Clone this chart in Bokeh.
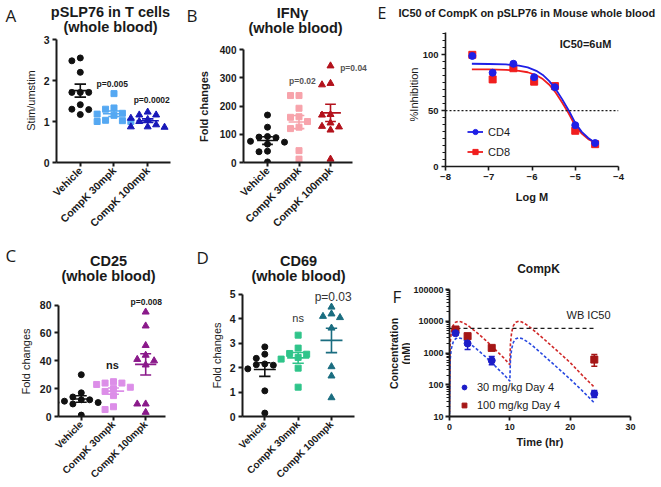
import numpy as np
from math import pi
from bokeh.plotting import figure
from bokeh.models import (Range1d, FixedTicker, Label, Span, Legend, LegendItem,
                          PrintfTickFormatter)
from bokeh.layouts import row, column
from bokeh.embed import file_html
from bokeh.resources import INLINE

FONT = "Liberation Sans"
LET = "Open Sans"
INK = "#1a1a1a"

groups = ["Vehicle", "CompK 30mpk", "CompK 100mpk"]

# ---------------- data ----------------
# A: pSLP76 in T cells (stim/unstim)
a_vehicle = [2.55, 2.48, 2.20, 1.71, 1.71, 1.71, 1.41, 1.30, 1.29, 1.17]
a_30mpk = [1.68, 1.33, 1.30, 1.20, 1.18, 1.15, 1.03, 1.02, 1.00, 1.00]
a_100mpk = [1.23, 1.16, 1.16, 1.08, 1.05, 1.00, 0.92, 0.87, 0.87, 0.86]
a_pvalues = ["p=0.005", "p=0.0002"]

# B: IFNg fold changes
b_vehicle = [168, 125, 92, 90, 88, 75, 72, 65, 40, 38, 2]
b_30mpk = [237, 237, 192, 162, 160, 145, 125, 120, 42, 12]
b_100mpk = [342, 280, 275, 170, 168, 140, 128, 126, 115, 12]
b_pvalues = ["p=0.02", "p=0.04"]

# C: CD25 fold changes
c_vehicle = [30, 17, 14, 12, 12, 11, 10, 10, 9, 1]
c_30mpk = [25, 24, 24, 23, 21, 20, 18, 15, 7, 5]
c_100mpk = [75, 65, 51, 44, 41, 40, 37, 9, 9, 3]
c_pvalues = ["ns", "p=0.008"]

# D: CD69 fold changes
d_vehicle = [2.85, 2.55, 2.38, 2.15, 2.12, 2.10, 1.95, 1.05, 0.14]
d_30mpk = [3.33, 2.80, 2.58, 2.55, 2.42, 2.35, 1.98, 1.20]
d_100mpk = [4.48, 4.20, 4.10, 4.05, 3.62, 2.04, 1.66, 0.77]
d_pvalues = ["ns", "p=0.03"]

# E: IC50 curve
e_logm = [-7.38, -6.91, -6.43, -5.95, -5.47, -5.00, -4.54]
e_cd4 = [99, 84, 92, 80, 71, 37, 21]
e_cd8 = [100, 78, 88, 76, 72, 32, 20]
e_fit_x = [-7.39, -7.0, -6.6, -6.3, -6.1, -5.9, -5.75, -5.6, -5.45, -5.3, -5.15, -5.0, -4.85, -4.7, -4.55]
e_fit_cd4 = [92.0, 91.8, 91.4, 90.3, 88.7, 85.7, 82.0, 76.5, 69.2, 60.1, 50.2, 39.0, 31.0, 25.5, 21.5]
e_fit_cd8 = [87.0, 86.9, 86.6, 85.7, 84.4, 81.7, 78.3, 73.2, 66.0, 57.1, 47.5, 36.5, 29.5, 24.5, 21.5]
e_ic50_text = "IC50=6uM"

# F: PK of CompK
f_t = [1, 3, 7, 24]
f_30 = [4200, 2000, 580, 52]
f_30_lo = [3700, 1300, 430, 40]
f_30_hi = [4700, 2900, 780, 66]
f_100 = [5500, 3400, 1450, 620]
f_100_lo = [5100, 3100, 1320, 380]
f_100_hi = [5900, 3700, 1600, 900]
f_model_t = [0.0, 0.1, 0.3, 0.6, 1.0, 1.5, 2, 3, 4, 5, 6, 7, 8, 9, 10,
             10.1, 10.3, 10.6, 11, 11.5, 12, 13, 14, 16, 18, 20, 22, 24]
f_model_30 = [12, 600, 1350, 2200, 2800, 3000, 2850, 2250, 1600, 1100, 750, 500, 320, 210, 130,
              600, 1350, 2200, 2800, 3000, 2850, 2200, 1550, 720, 330, 150, 65, 27]
f_model_100 = [14, 2000, 4500, 7300, 9300, 10000, 9500, 7500, 5300, 3700, 2500, 1650, 1070, 700, 430,
               2000, 4500, 7300, 9300, 10000, 9500, 7300, 5100, 2400, 1100, 500, 200, 84]
wb_ic50 = 6000
wb_ic50_t = [0, 24.3]


# ---------------- helpers ----------------
def base_fig(w, h, xr, yr, borders=(0, 0, 0, 0), y_axis_type="linear", axes=True):
    l, t, r, b = borders
    kw = {} if axes else dict(x_axis_location=None, y_axis_location=None)
    p = figure(width=w, height=h, x_range=Range1d(*xr), y_range=Range1d(*yr),
               y_axis_type=y_axis_type, output_backend="svg", toolbar_location=None,
               title=None, frame_align=False,
               min_border_left=l, min_border_top=t, min_border_right=r, min_border_bottom=b, **kw)
    p.xgrid.visible = False
    p.ygrid.visible = False
    p.outline_line_color = None
    p.background_fill_color = "white"
    p.border_fill_color = "white"
    return p


def title_fig(w, h, items):
    """items: (x, y, text, size, bold, align, font, angle) in local pixels (y downward)."""
    p = base_fig(w, h, (0, w), (h, 0), axes=False)
    for x, y, text, size, bold, align, font, angle in items:
        p.add_layout(Label(x=x, y=y, text=text, text_font=font, text_font_size=f"{size}px",
                           text_font_style="bold" if bold else "normal", text_align=align,
                           text_baseline="middle", text_color=INK, angle=angle))
    return p


def ylab_fig(w, h, x, y, text, bold=False, size=11):
    return title_fig(w, h, [(x, y, text, size, bold, "center", FONT, pi / 2)])


def style(p, tick_fs, lw=2.0):
    for ax in (p.xaxis[0], p.yaxis[0]):
        ax.axis_line_width = lw
        ax.axis_line_color = INK
        ax.major_tick_line_width = lw
        ax.major_tick_line_color = INK
        ax.major_tick_out = 4
        ax.major_tick_in = 0
        ax.minor_tick_line_color = None
        ax.major_label_text_font = FONT
        ax.major_label_text_font_style = "bold"
        ax.major_label_text_font_size = f"{tick_fs}px"
        ax.major_label_text_color = INK
        ax.major_label_standoff = 3
        ax.axis_label_text_font = FONT
        ax.axis_label_text_font_style = "normal"
        ax.axis_label_text_font_size = "11px"
        ax.axis_label_text_color = INK


def swarm(vals, ypx, xpx, step=8.5, min_d=6.5):
    order = sorted(range(len(vals)), key=lambda i: -vals[i])
    placed, res = [], [0.0] * len(vals)
    for i in order:
        y = vals[i] * ypx
        x = 0.0
        for k in [0, -1, 1, -2, 2, -3, 3]:
            x = k * step
            if all((x - px) ** 2 + (y - py) ** 2 >= min_d ** 2 for px, py in placed):
                break
        placed.append((x, y))
        res[i] = x / xpx
    return res


def dot_panel(w, h, borders, top_tick_px, cats_px, ymax, yticks, data, colors,
              tick_fs=10, cat_fs=10, x_extra_px=0):
    l, t, r, b = borders
    fh = h - t - b
    ypx = (fh - top_tick_px) / ymax
    c1, sp, c3 = cats_px
    x0 = 1 - c1 / sp
    x_axis_end = 3 + c3 / sp
    x1 = x_axis_end + x_extra_px / sp
    y1 = ymax + top_tick_px / ypx
    p = base_fig(w, h, (x0, x1), (0, y1), borders)
    style(p, tick_fs)
    p.xaxis.bounds = (x0, x_axis_end)
    p.yaxis.bounds = (0, ymax)
    p.xaxis.ticker = FixedTicker(ticks=[1, 2, 3])
    p.xaxis.major_label_overrides = {1: groups[0], 2: groups[1], 3: groups[2]}
    p.xaxis.major_label_orientation = pi / 4
    p.xaxis.major_label_text_font_size = f"{cat_fs}px"
    p.xaxis.major_label_standoff = 2
    p.yaxis.ticker = FixedTicker(ticks=yticks)
    markers = ["circle", "square", "triangle"]
    sizes = [6, 6, 7]
    for i, (vals, col, mk, sz) in enumerate(zip(data, colors, markers, sizes)):
        c = i + 1
        offs = swarm(vals, ypx, sp)
        p.scatter([c + o for o in offs], vals, marker=mk, size=sz, color=col)
        m = float(np.mean(vals))
        s = float(np.std(vals, ddof=1) / np.sqrt(len(vals)))
        p.segment(x0=[c - 0.33], x1=[c + 0.33], y0=[m], y1=[m], line_color=col, line_width=1.6)
        p.segment(x0=[c], x1=[c], y0=[m - s], y1=[m + s], line_color=col, line_width=1.6)
        p.segment(x0=[c - 0.17, c - 0.17], x1=[c + 0.17, c + 0.17], y0=[m - s, m + s],
                  y1=[m - s, m + s], line_color=col, line_width=1.6)
    return p


def plabel(p, x, y, text, size, bold=True, color=INK, align="center"):
    p.add_layout(Label(x=x, y=y, text=text, text_font=FONT, text_font_size=f"{size}px",
                       text_font_style="bold" if bold else "normal", text_align=align,
                       text_baseline="middle", text_color=color))


# ================= Row 1 (height 236) =================
# ---- Panel A ----
tA = title_fig(175, 35, [(5, 15, "A", 17, False, "left", LET, 0),
                         (110, 11.5, "pSLP76 in T cells", 14.5, True, "center", FONT, 0),
                         (110, 26, "(whole blood)", 14.5, True, "center", FONT, 0)])
yA = ylab_fig(40, 201, 30, 65, "Stim/umstim")
pa = dot_panel(135, 201, (15, 4, 5, 72), 0, (24, 34, 23), 3, [0, 1, 2, 3],
               [a_vehicle, a_30mpk, a_100mpk], ["#111111", "#55a8f2", "#1818b8"],
               tick_fs=10.5, cat_fs=10.5)
plabel(pa, 1.95, 1.92, a_pvalues[0], 8.5)
plabel(pa, 3.12, 1.52, a_pvalues[1], 8.5)

# ---- Panel B ----
tB = title_fig(197, 42, [(11, 15, "B", 17, False, "left", LET, 0),
                         (117, 12, "IFN\u03b3", 14.5, True, "center", FONT, 0),
                         (120, 27, "(whole blood)", 14.5, True, "center", FONT, 0)])
yB = ylab_fig(40, 194, 28, 64, "Fold changes", bold=True)
pb = dot_panel(157, 194, (28, 7, 2, 73), 0, (24, 31.5, 22), 400, [0, 100, 200, 300, 400],
               [b_vehicle, b_30mpk, b_100mpk], ["#111111", "#f7a3ab", "#b3121c"],
               tick_fs=10, cat_fs=10.5, x_extra_px=18)
plabel(pb, 2.11, 290, b_pvalues[0], 8.5, color="#555555")
plabel(pb, 3.73, 334, b_pvalues[1], 8.5, color="#555555")

# ---- Panel E ----
tE = title_fig(288, 24, [(5, 12, "E", 16, False, "left", LET, 0),
                         (26, 12, "IC50 of CompK on pSLP76 in Mouse whole blood", 11, True, "left", FONT, 0)])
yE = ylab_fig(47, 212, 41, 70, "%Inhibition")
pe = base_fig(241, 212, (-8, -4), (0, 120), (23, 8, 42, 70))
style(pe, 9.5, lw=1.6)
pe.xaxis.ticker = FixedTicker(ticks=[-8, -7, -6, -5, -4])
pe.yaxis.ticker = FixedTicker(ticks=[0, 50, 100], minor_ticks=[k * 6.25 for k in range(20)])
pe.yaxis.minor_tick_line_color = INK
pe.yaxis.minor_tick_line_width = 1.2
pe.yaxis.minor_tick_out = 3
pe.yaxis.minor_tick_in = 0
pe.xaxis.axis_label = "Log M"
pe.xaxis.axis_label_text_font_style = "bold"
pe.xaxis.axis_label_standoff = 8
pe.add_layout(Span(location=50, dimension="width", line_color=INK, line_dash="2 2", line_width=1.2))
BLUE_E, RED_E = "#1f1fe6", "#f01e1e"
l8 = pe.line(e_fit_x, e_fit_cd8, line_color=RED_E, line_width=1.8)
s8 = pe.scatter(e_logm, e_cd8, marker="square", size=7, color=RED_E)
l4 = pe.line(e_fit_x, e_fit_cd4, line_color=BLUE_E, line_width=1.8)
s4 = pe.scatter(e_logm, e_cd4, marker="circle", size=7, color=BLUE_E)
lege = Legend(items=[LegendItem(label="CD4", renderers=[l4, s4]),
                     LegendItem(label="CD8", renderers=[l8, s8])],
              location=(22, 8), border_line_color=None, background_fill_alpha=0,
              padding=0, margin=0, spacing=7, glyph_width=16, glyph_height=13,
              label_height=13, label_standoff=5, label_text_font=FONT,
              label_text_font_size="11px", label_text_color=INK)
pe.add_layout(lege)
plabel(pe, -5.36, 110, e_ic50_text, 11, align="left")

# ================= Row 2 (height 250) =================
# ---- Panel C ----
tC = title_fig(175, 48, [(5, 19, "C", 17, False, "left", LET, 0),
                         (108, 24, "CD25", 14.5, True, "center", FONT, 0),
                         (108, 39, "(whole blood)", 14.5, True, "center", FONT, 0)])
yC = ylab_fig(36, 202, 25, 77, "Fold changes")
pc = dot_panel(139, 202, (21, 10, 10, 65), 11, (23, 32.5, 20), 80, [0, 20, 40, 60, 80],
               [c_vehicle, c_30mpk, c_100mpk], ["#111111", "#dc8ee8", "#8a198a"],
               tick_fs=10.5, cat_fs=10)
plabel(pc, 1.97, 37, c_pvalues[0], 11)
plabel(pc, 3.02, 82, c_pvalues[1], 8.5)

# ---- Panel D ----
tD = title_fig(190, 48, [(21, 21, "D", 17, False, "left", LET, 0),
                         (123, 24, "CD69", 14.5, True, "center", FONT, 0),
                         (123, 39, "(whole blood)", 14.5, True, "center", FONT, 0)])
yD = ylab_fig(51, 202, 41, 71, "Fold changes")
pd = dot_panel(139, 202, (16, 4, 11, 67), 6, (22.3, 33.3, 23), 5, [0, 1, 2, 3, 4, 5],
               [d_vehicle, d_30mpk, d_100mpk], ["#111111", "#2fc48a", "#1a6d80"],
               tick_fs=10.5, cat_fs=10)
plabel(pd, 2.0, 4.05, d_pvalues[0], 11, bold=False, color="#333333")
plabel(pd, 3.05, 4.9, d_pvalues[1], 12, bold=False, color="#333333")

# ---- Panel F ----
fL = title_fig(45, 250, [(27, 60, "F", 17, False, "left", LET, 0),
                         (28, 117, "Concentration", 10.5, True, "center", FONT, pi / 2),
                         (40, 117, "(nM)", 10.5, True, "center", FONT, pi / 2)])
tF = title_fig(250, 46, [(128, 32, "CompK", 12, True, "center", FONT, 0)])
pf = base_fig(250, 204, (0, 30), (10, 100000), (37, 7, 30, 70), y_axis_type="log")
style(pf, 9, lw=1.8)
pf.yaxis.major_label_standoff = 2
pf.xaxis.ticker = FixedTicker(ticks=[0, 10, 20, 30])
pf.yaxis.ticker = FixedTicker(ticks=[10, 100, 1000, 10000, 100000],
                              minor_ticks=[m * 10 ** e for e in range(1, 5) for m in range(2, 10)])
pf.yaxis.formatter = PrintfTickFormatter(format="%d")
pf.yaxis.minor_tick_line_color = INK
pf.yaxis.minor_tick_out = 3
pf.yaxis.minor_tick_in = 0
pf.yaxis.minor_tick_line_width = 1.2
pf.xaxis.axis_label = "Time (hr)"
pf.xaxis.axis_label_text_font_style = "bold"
pf.xaxis.axis_label_standoff = 3
BLUE_F, RED_F = "#1c1cc8", "#a51616"
pf.line(f_model_t, f_model_100, line_color="#d02828", line_dash="3 2", line_width=1.6)
pf.line(f_model_t, f_model_30, line_color="#2848e0", line_dash="3 2", line_width=1.6)
pf.line(wb_ic50_t, [wb_ic50, wb_ic50], line_color=INK, line_dash="4 3", line_width=1.3)
for t_, lo, hi, col in [(f_t, f_30_lo, f_30_hi, BLUE_F), (f_t, f_100_lo, f_100_hi, RED_F)]:
    pf.segment(x0=t_, x1=t_, y0=lo, y1=hi, line_color=col, line_width=1.5)
    pf.segment(x0=[v - 0.5 for v in t_], x1=[v + 0.5 for v in t_], y0=lo, y1=lo, line_color=col, line_width=1.5)
    pf.segment(x0=[v - 0.5 for v in t_], x1=[v + 0.5 for v in t_], y0=hi, y1=hi, line_color=col, line_width=1.5)
r100 = pf.scatter(f_t, f_100, marker="square", size=7, color=RED_F)
r30 = pf.scatter(f_t, f_30, marker="circle", size=7, color=BLUE_F)
legf = Legend(items=[LegendItem(label="30 mg/kg Day 4", renderers=[r30]),
                     LegendItem(label="100 mg/kg Day 4", renderers=[r100])],
              location=(9, 5), border_line_color=None, background_fill_alpha=0,
              padding=0, margin=0, spacing=6, glyph_width=12, glyph_height=12,
              label_height=12, label_standoff=7, label_text_font=FONT,
              label_text_font_size="11px", label_text_color=INK)
pf.add_layout(legf)
plabel(pf, 19.4, 16000, "WB  IC50", 11, bold=False, align="left")

layout = column(
    row(column(tA, row(yA, pa)), column(tB, row(yB, pb)), column(tE, row(yE, pe))),
    row(column(tC, row(yC, pc)), column(tD, row(yD, pd)), fL, column(tF, pf)))
open("out.html", "w").write(file_html(layout, INLINE, title="CompK figure"))
